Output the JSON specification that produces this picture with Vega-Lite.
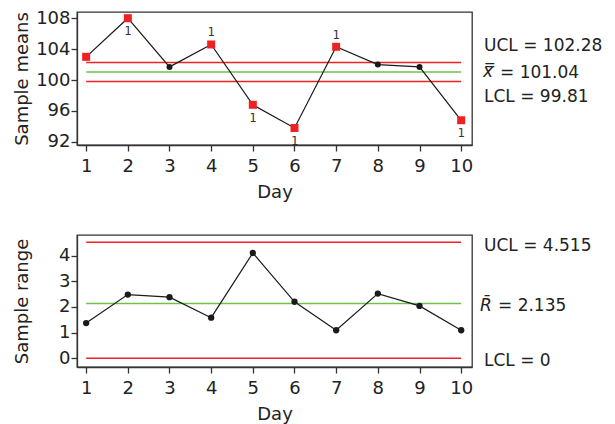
{
  "$schema": "https://vega.github.io/schema/vega-lite/v6.json",
  "padding": {"left": 12, "top": 8, "right": 5, "bottom": 5},
  "background": "white",
  "datasets": {
    "samples": [
      {"day": 1, "mean": 103.0, "range": 1.37, "status": "out", "flag": "", "side": "none"},
      {"day": 2, "mean": 108.0, "range": 2.48, "status": "out", "flag": "1", "side": "below"},
      {"day": 3, "mean": 101.7, "range": 2.38, "status": "in", "flag": "", "side": "none"},
      {"day": 4, "mean": 104.6, "range": 1.58, "status": "out", "flag": "1", "side": "above"},
      {"day": 5, "mean": 96.8, "range": 4.10, "status": "out", "flag": "1", "side": "below"},
      {"day": 6, "mean": 93.8, "range": 2.20, "status": "out", "flag": "1", "side": "below"},
      {"day": 7, "mean": 104.3, "range": 1.09, "status": "out", "flag": "1", "side": "above"},
      {"day": 8, "mean": 102.0, "range": 2.52, "status": "in", "flag": "", "side": "none"},
      {"day": 9, "mean": 101.7, "range": 2.04, "status": "in", "flag": "", "side": "none"},
      {"day": 10, "mean": 94.8, "range": 1.09, "status": "out", "flag": "1", "side": "below"}
    ],
    "limits": [
      {"chart": "means", "kind": "UCL", "value": 102.28, "label": "UCL = 102.28"},
      {"chart": "means", "kind": "CL", "value": 101.04, "label": "= 101.04"},
      {"chart": "means", "kind": "LCL", "value": 99.81, "label": "LCL = 99.81"},
      {"chart": "range", "kind": "UCL", "value": 4.515, "label": "UCL = 4.515"},
      {"chart": "range", "kind": "CL", "value": 2.135, "label": "= 2.135"},
      {"chart": "range", "kind": "LCL", "value": 0, "label": "LCL = 0"}
    ]
  },
  "config": {
    "font": "DejaVu Sans",
    "view": {"stroke": "#333333", "strokeWidth": 1.3},
    "axis": {
      "grid": false,
      "domainColor": "#333333",
      "domainWidth": 1.3,
      "tickColor": "#333333",
      "tickWidth": 1.3,
      "tickSize": 6,
      "tickCount": 12,
      "labelColor": "#222222",
      "titleColor": "#222222",
      "labelFont": "DejaVu Sans",
      "titleFont": "DejaVu Sans",
      "labelFontSize": 18,
      "titleFontSize": 18,
      "titleFontWeight": "normal",
      "labelOverlap": false
    },
    "text": {"font": "DejaVu Sans", "color": "#222222"}
  },
  "bounds": "flush",
  "spacing": 90,
  "vconcat": [
    {
      "width": 395,
      "height": 133,
      "layer": [
        {
          "data": {"name": "limits"},
          "transform": [{"filter": "datum.chart === 'means'"}],
          "mark": {"type": "rule", "strokeWidth": 1.5},
          "encoding": {
            "x": {"datum": 1, "type": "quantitative", "scale": {"domain": [0.78, 10.26], "nice": false, "zero": false}, "axis": {"values": [1,2,3,4,5,6,7,8,9,10], "tickCount": 12, "title": "Day", "labelPadding": 6, "titlePadding": 8, "format": "d", "labelFlush": false}},
            "x2": {"datum": 10},
            "y": {"field": "value", "type": "quantitative", "scale": {"domain": [91.6, 108.8], "nice": false, "zero": false}, "axis": {"values": [92,96,100,104,108], "tickCount": 12, "labelOverlap": false, "format": "d", "title": "Sample means", "labelPadding": 1, "titleX": -50, "titleBaseline": "alphabetic"}},
            "color": {"field": "kind", "type": "nominal", "scale": {"domain": ["UCL", "CL", "LCL"], "range": ["#ee2222", "#6cc24a", "#ee2222"]}, "legend": null}
          }
        },
        {
          "data": {"name": "samples"},
          "mark": {"type": "line", "color": "#1a1a1a", "strokeWidth": 1.2},
          "encoding": {
            "x": {"field": "day", "type": "quantitative", "scale": {"domain": [0.78, 10.26], "nice": false, "zero": false}, "axis": {"values": [1,2,3,4,5,6,7,8,9,10], "tickCount": 12, "title": "Day", "labelPadding": 6, "titlePadding": 8, "format": "d", "labelFlush": false}},
            "y": {"field": "mean", "type": "quantitative", "scale": {"domain": [91.6, 108.8], "nice": false, "zero": false}, "axis": {"values": [92,96,100,104,108], "tickCount": 12, "labelOverlap": false, "format": "d", "title": "Sample means", "labelPadding": 1, "titleX": -50, "titleBaseline": "alphabetic"}}
          }
        },
        {
          "data": {"name": "samples"},
          "transform": [{"filter": "datum.status === 'in'"}],
          "mark": {"type": "point", "shape": "circle", "filled": true, "color": "#1a1a1a", "size": 36, "opacity": 1},
          "encoding": {
            "x": {"field": "day", "type": "quantitative"},
            "y": {"field": "mean", "type": "quantitative"}
          }
        },
        {
          "data": {"name": "samples"},
          "transform": [{"filter": "datum.status === 'out'"}],
          "mark": {"type": "point", "shape": "square", "filled": true, "color": "#ee2222", "size": 64, "opacity": 1},
          "encoding": {
            "x": {"field": "day", "type": "quantitative"},
            "y": {"field": "mean", "type": "quantitative"}
          }
        },
        {
          "data": {"name": "samples"},
          "transform": [{"filter": "datum.side === 'above'"}],
          "mark": {"type": "text", "font": "DejaVu Sans Mono", "fontSize": 12, "dy": -12, "color": "#333333"},
          "encoding": {
            "x": {"field": "day", "type": "quantitative"},
            "y": {"field": "mean", "type": "quantitative"},
            "text": {"field": "flag"}
          }
        },
        {
          "data": {"name": "samples"},
          "transform": [{"filter": "datum.side === 'below'"}],
          "mark": {"type": "text", "font": "DejaVu Sans Mono", "fontSize": 12, "dy": 13, "color": "#333333"},
          "encoding": {
            "x": {"field": "day", "type": "quantitative"},
            "y": {"field": "mean", "type": "quantitative"},
            "text": {"field": "flag"}
          }
        },
        {
          "data": {"name": "limits"},
          "transform": [{"filter": "datum.chart === 'means' && datum.kind === 'UCL'"}],
          "mark": {"type": "text", "align": "left", "baseline": "middle", "fontSize": 17, "dx": 12, "dy": -16},
          "encoding": {
            "x": {"value": "width"},
            "y": {"field": "value", "type": "quantitative"},
            "text": {"field": "label"}
          }
        },
        {
          "data": {"name": "limits"},
          "transform": [{"filter": "datum.chart === 'means' && datum.kind === 'CL'"}],
          "mark": {"type": "text", "align": "left", "baseline": "middle", "fontSize": 17, "dx": 28, "dy": 1},
          "encoding": {
            "x": {"value": "width"},
            "y": {"field": "value", "type": "quantitative"},
            "text": {"field": "label"}
          }
        },
        {
          "data": {"name": "limits"},
          "transform": [{"filter": "datum.chart === 'means' && datum.kind === 'CL'"}],
          "mark": {"type": "text", "align": "left", "baseline": "middle", "fontSize": 17, "fontStyle": "italic", "dx": 11, "dy": 0, "text": "x\u033f"},
          "encoding": {
            "x": {"value": "width"},
            "y": {"field": "value", "type": "quantitative"}
          }
        },
        {
          "data": {"name": "limits"},
          "transform": [{"filter": "datum.chart === 'means' && datum.kind === 'LCL'"}],
          "mark": {"type": "text", "align": "left", "baseline": "middle", "fontSize": 17, "dx": 12, "dy": 15},
          "encoding": {
            "x": {"value": "width"},
            "y": {"field": "value", "type": "quantitative"},
            "text": {"field": "label"}
          }
        }
      ]
    },
    {
      "width": 395,
      "height": 132,
      "layer": [
        {
          "data": {"name": "limits"},
          "transform": [{"filter": "datum.chart === 'range'"}],
          "mark": {"type": "rule", "strokeWidth": 1.5},
          "encoding": {
            "x": {"datum": 1, "type": "quantitative", "scale": {"domain": [0.78, 10.26], "nice": false, "zero": false}, "axis": {"values": [1,2,3,4,5,6,7,8,9,10], "tickCount": 12, "title": "Day", "labelPadding": 6, "titlePadding": 8, "format": "d", "labelFlush": false}},
            "x2": {"datum": 10},
            "y": {"field": "value", "type": "quantitative", "scale": {"domain": [-0.34, 4.8], "nice": false, "zero": false}, "axis": {"values": [0,1,2,3,4], "tickCount": 12, "labelOverlap": false, "format": "d", "title": "Sample range", "labelPadding": 1, "titleX": -50, "titleBaseline": "alphabetic"}},
            "color": {"field": "kind", "type": "nominal", "scale": {"domain": ["UCL", "CL", "LCL"], "range": ["#ee2222", "#6cc24a", "#ee2222"]}, "legend": null}
          }
        },
        {
          "data": {"name": "samples"},
          "mark": {"type": "line", "color": "#1a1a1a", "strokeWidth": 1.2},
          "encoding": {
            "x": {"field": "day", "type": "quantitative", "scale": {"domain": [0.78, 10.26], "nice": false, "zero": false}, "axis": {"values": [1,2,3,4,5,6,7,8,9,10], "tickCount": 12, "title": "Day", "labelPadding": 6, "titlePadding": 8, "format": "d", "labelFlush": false}},
            "y": {"field": "range", "type": "quantitative", "scale": {"domain": [-0.34, 4.8], "nice": false, "zero": false}, "axis": {"values": [0,1,2,3,4], "tickCount": 12, "labelOverlap": false, "format": "d", "title": "Sample range", "labelPadding": 1, "titleX": -50, "titleBaseline": "alphabetic"}}
          }
        },
        {
          "data": {"name": "samples"},
          "mark": {"type": "point", "shape": "circle", "filled": true, "color": "#1a1a1a", "size": 40, "opacity": 1},
          "encoding": {
            "x": {"field": "day", "type": "quantitative"},
            "y": {"field": "range", "type": "quantitative"}
          }
        },
        {
          "data": {"name": "limits"},
          "transform": [{"filter": "datum.chart === 'range' && datum.kind === 'UCL'"}],
          "mark": {"type": "text", "align": "left", "baseline": "middle", "fontSize": 17, "dx": 12, "dy": 4},
          "encoding": {
            "x": {"value": "width"},
            "y": {"field": "value", "type": "quantitative"},
            "text": {"field": "label"}
          }
        },
        {
          "data": {"name": "limits"},
          "transform": [{"filter": "datum.chart === 'range' && datum.kind === 'CL'"}],
          "mark": {"type": "text", "align": "left", "baseline": "middle", "fontSize": 17, "dx": 26, "dy": 3},
          "encoding": {
            "x": {"value": "width"},
            "y": {"field": "value", "type": "quantitative"},
            "text": {"field": "label"}
          }
        },
        {
          "data": {"name": "limits"},
          "transform": [{"filter": "datum.chart === 'range' && datum.kind === 'CL'"}],
          "mark": {"type": "text", "align": "left", "baseline": "middle", "fontSize": 17, "fontStyle": "italic", "dx": 8, "dy": 3, "text": "R\u0304"},
          "encoding": {
            "x": {"value": "width"},
            "y": {"field": "value", "type": "quantitative"}
          }
        },
        {
          "data": {"name": "limits"},
          "transform": [{"filter": "datum.chart === 'range' && datum.kind === 'LCL'"}],
          "mark": {"type": "text", "align": "left", "baseline": "middle", "fontSize": 17, "dx": 12, "dy": 3},
          "encoding": {
            "x": {"value": "width"},
            "y": {"field": "value", "type": "quantitative"},
            "text": {"field": "label"}
          }
        }
      ]
    }
  ]
}
